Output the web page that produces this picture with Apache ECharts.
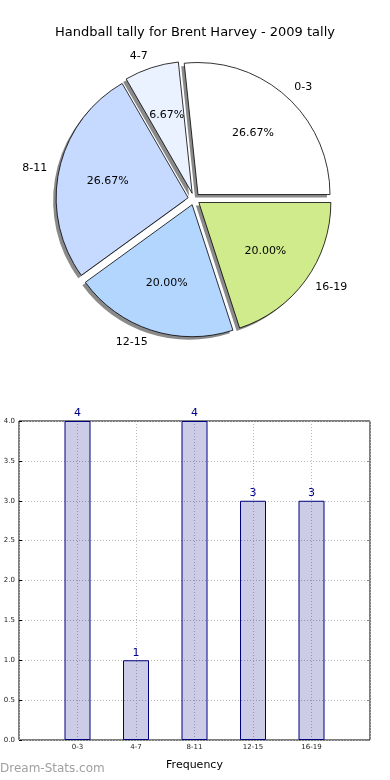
<!DOCTYPE html>
<html><head><meta charset="utf-8">
<script src="https://cdn.jsdelivr.net/npm/echarts@6/dist/echarts.min.js"></script>
<style>html,body{margin:0;padding:0;background:#fff}#c{width:390px;height:780px}</style>
</head><body><div id="c"></div>
<script>
const categories = ['0-3','4-7','8-11','12-15','16-19'];
const frequencies = [4,1,4,3,3];
const sliceColors = ['#ffffff','#eaf1ff','#c6d9ff','#b3d6ff','#d0eb8c'];
const yTicks = [0,0.5,1,1.5,2,2.5,3,3.5,4];
const titleText = 'Handball tally for Brent Harvey - 2009 tally';
const xAxisTitle = 'Frequency';
const watermark = 'Dream-Stats.com';

const FONT = 'DejaVu Sans';
const CX = 194, CY = 199;
const C = [String(CX), String(CY)];
const CS = [String(CX-3), String(CY+3)];
const R = 132;
const total = frequencies.reduce((a,b)=>a+b,0);

const pieData = categories.map((n,i)=>({name:n, value:frequencies[i], selected:true,
  itemStyle:{color:sliceColors[i]}}));
const transData = categories.map((n,i)=>({name:n, value:frequencies[i], selected:true}));
const barData = frequencies.map((v,i)=>[i+1, v]);

const chart = echarts.init(document.getElementById('c'), null, {renderer:'canvas'});
chart.setOption({
  animation:false,
  textStyle:{fontFamily:FONT},
  title:{text:titleText, left:'center', top:21,
    textStyle:{fontFamily:FONT, fontSize:13, fontWeight:'normal', color:'#000'}},
  graphic:[{type:'text', left:0, top:763, style:{text:watermark, fontFamily:FONT, fontSize:12, fill:'#a0a0a0', fontWeight:'normal'}}],
  grid:{left:19, right:20, top:421, bottom:40, show:true, borderColor:'#000', borderWidth:1, backgroundColor:'transparent'},
  xAxis:{type:'value', min:0, max:6, interval:1,
    name:xAxisTitle, nameLocation:'middle', nameGap:20,
    nameTextStyle:{fontFamily:FONT, fontSize:11, color:'#000'},
    axisLine:{show:false}, axisTick:{show:false},
    axisLabel:{fontFamily:FONT, fontSize:7, color:'#222', margin:4,
      formatter:v=> (v>=1 && v<=categories.length) ? categories[v-1] : ''},
    splitLine:{show:true, lineStyle:{color:'#b8b8b8', type:[1,2], width:1}}},
  yAxis:[{type:'value', min:0, max:4, interval:0.5,
    axisLine:{show:false}, axisTick:{show:true, inside:true, length:3, lineStyle:{color:'#000'}},
    axisLabel:{fontFamily:FONT, fontSize:7, color:'#222', margin:4, formatter:v=>v.toFixed(1)},
    splitLine:{show:true, lineStyle:{color:'#b8b8b8', type:[1,2], width:1}}},
    {type:'value', min:0, max:4, interval:0.5, position:'right',
    axisLine:{show:false}, axisTick:{show:true, inside:true, length:3, lineStyle:{color:'#888'}},
    axisLabel:{show:false}, splitLine:{show:false}}],
  series:[
    {type:'pie', center:CS, radius:[0,R], startAngle:0, clockwise:false, z:1,
     selectedMode:'multiple', selectedOffset:6, data:transData, silent:true,
     itemStyle:{color:'#8a8a8a', borderWidth:0},
     label:{show:false}, labelLine:{show:false}, emphasis:{disabled:true}},
    {type:'pie', center:C, radius:[0,R], startAngle:0, clockwise:false, z:2,
     selectedMode:'multiple', selectedOffset:6, avoidLabelOverlap:false,
     data:pieData, silent:true,
     itemStyle:{borderColor:'#000', borderWidth:0.8},
     label:{show:true, position:'outside', fontFamily:FONT, fontSize:11, color:'#000', formatter:'{b}', distanceToLabelLine:0},
     labelLine:{show:false, length:12, length2:0},
     emphasis:{disabled:true}},
    {type:'pie', center:C, radius:[0,R*1.2], startAngle:0, clockwise:false,
     selectedMode:'multiple', selectedOffset:6, data:transData, silent:true, z:5,
     itemStyle:{color:'transparent', borderWidth:0},
     label:{show:true, position:'inside', fontFamily:FONT, fontSize:11, color:'#000',
       formatter:p=> (p.value/total*100).toFixed(2)+'%'},
     labelLine:{show:false}, emphasis:{disabled:true}},
    {type:'bar', data:barData, barWidth:26, yAxisIndex:0, z:1,
     itemStyle:{color:'rgba(0,0,128,0.2)', borderColor:'#000080', borderWidth:1},
     label:{show:true, position:'top', distance:2, fontFamily:FONT, fontSize:11, color:'#00008b',
       formatter:p=>String(p.value[1])}}
  ]
});
</script></body></html>
